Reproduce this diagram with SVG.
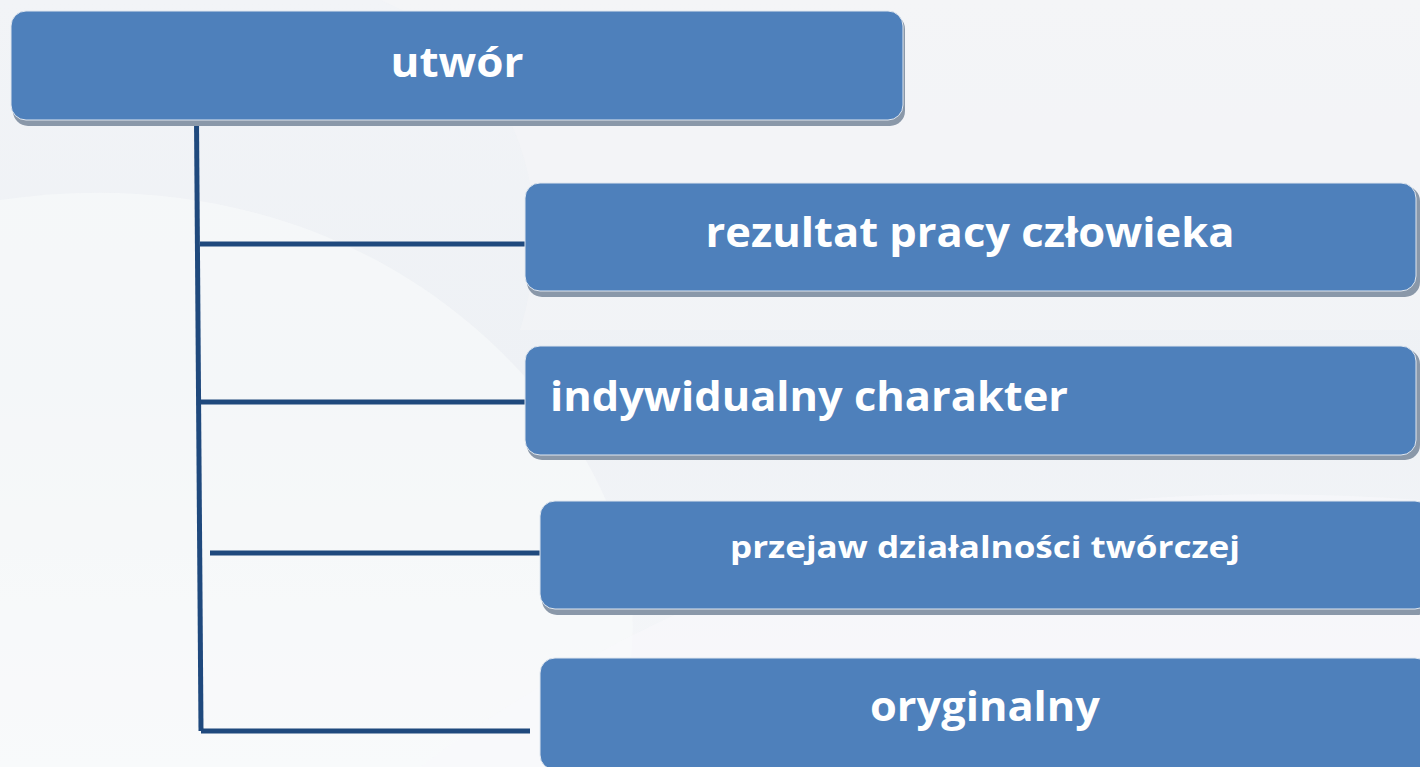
<svg xmlns="http://www.w3.org/2000/svg" width="1420" height="767" viewBox="0 0 1420 767">
<defs>
<linearGradient id="bg" x1="0" y1="0" x2="0" y2="1">
<stop offset="0" stop-color="#f2f4f7"/>
<stop offset="0.5" stop-color="#eef1f5"/>
<stop offset="1" stop-color="#f7f8fa"/>
</linearGradient>
<style>
.box{fill:#4e80bb;stroke:#dfe6ef;stroke-width:1}
.sh{fill:#8a98a9}
.t{font-family:"Open Sans","Liberation Sans",sans-serif;font-weight:bold;fill:#ffffff;text-anchor:middle}
.c{stroke:#1f497d;stroke-width:5;fill:none}
</style>
</defs>
<rect width="1420" height="767" fill="url(#bg)"/>
<path d="M0 200 C 200 170 420 230 560 420 C 660 560 640 680 600 767 L 0 767 Z" fill="#fafbfc" opacity="0.55"/>
<path d="M380 0 C 520 60 560 200 520 330 L 1420 330 L 1420 0 Z" fill="#f5f6f8" opacity="0.5"/>
<path d="M420 767 C 700 560 1000 470 1420 500 L 1420 767 Z" fill="#f8f9fb" opacity="0.6"/>

<g id="connectors">
<line class="c" x1="196.5" y1="120" x2="201" y2="731"/>
<line class="c" x1="200" y1="244" x2="526" y2="244"/>
<line class="c" x1="200" y1="402" x2="528" y2="402"/>
<line class="c" x1="210" y1="553" x2="541" y2="553"/>
<line class="c" x1="201" y1="731" x2="530" y2="731"/>
</g>

<g id="node-utwor">
<rect class="sh" x="13" y="14" width="892" height="112" rx="15"/>
<rect class="box" x="11" y="11" width="892" height="109" rx="15"/>
<text class="t" x="457" y="77" font-size="42" textLength="133" lengthAdjust="spacingAndGlyphs">utwór</text>
</g>

<g id="node-rezultat">
<rect class="sh" x="527" y="186" width="893" height="111" rx="15"/>
<rect class="box" x="525" y="183" width="891" height="108" rx="15"/>
<text class="t" x="970" y="247" font-size="42" textLength="529" lengthAdjust="spacingAndGlyphs">rezultat pracy człowieka</text>
</g>

<g id="node-indywidualny">
<rect class="sh" x="527" y="349" width="893" height="111" rx="15"/>
<rect class="box" x="525" y="346" width="891" height="109" rx="15"/>
<text class="t" x="809" y="411" font-size="42" textLength="518" lengthAdjust="spacingAndGlyphs">indywidualny charakter</text>
</g>

<g id="node-przejaw">
<rect class="sh" x="542" y="504" width="890" height="111" rx="15"/>
<rect class="box" x="540" y="501" width="890" height="108" rx="15"/>
<text class="t" x="985" y="558" font-size="31" textLength="510" lengthAdjust="spacingAndGlyphs">przejaw działalności twórczej</text>
</g>

<g id="node-oryginalny">
<rect class="sh" x="542" y="661" width="890" height="111" rx="15"/>
<rect class="box" x="540" y="658" width="890" height="112" rx="15"/>
<text class="t" x="985" y="721" font-size="42" textLength="230" lengthAdjust="spacingAndGlyphs">oryginalny</text>
</g>
</svg>
